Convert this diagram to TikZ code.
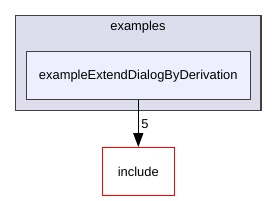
\documentclass[tikz,border=0pt]{standalone}
\usepackage{fontspec}
\setmainfont{Liberation Sans}
\usetikzlibrary{arrows.meta}
\definecolor{clusterfill}{HTML}{DDDDEE}
\definecolor{innerfill}{HTML}{EEEEFF}
\definecolor{edgegrey}{HTML}{404040}
\tikzset{
  lbl/.style={font=\fontsize{12.9}{14}\selectfont, inner sep=0pt},
  cluster/.style={draw=edgegrey, fill=clusterfill, line width=1.3pt},
  dirbox/.style={draw=edgegrey, fill=innerfill, line width=1.3pt},
  extbox/.style={draw=red, fill=white, line width=1.3pt},
  dep/.style={draw=black, line width=1.4pt, -{Triangle[length=14pt,width=10pt]}}
}
\begin{document}
\begin{tikzpicture}[x=1pt,y=1pt]
\useasboundingbox (0,0) rectangle (277,201);
% cluster
\draw[cluster] (15.7,90.3) rectangle (261,185.7);
\node[lbl] (clab) at (138,173.7) {examples};
% inner directory
\node[dirbox, minimum width=224pt, minimum height=48pt, inner sep=0pt] (ex) at (138.3,125.3) {};
\node[lbl] (exlab) at (ex.center) {exampleExtendDialogByDerivation};
% include
\node[extbox, minimum width=72pt, minimum height=48pt, inner sep=0pt] (inc) at (138.3,29.3) {};
\node[lbl] (inclab) at (inc.center) {include};
% edge
\draw[dep] (ex.south) -- (inc.north) node[lbl, pos=0.5, right=2.5pt] (five) {5};
\end{tikzpicture}
\end{document}
